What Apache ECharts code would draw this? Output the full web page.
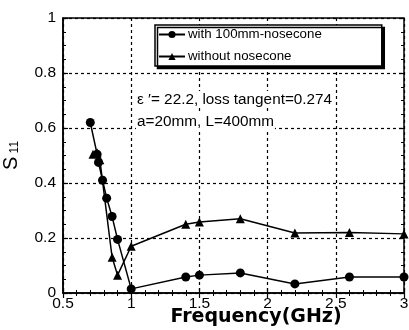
<!DOCTYPE html>
<html>
<head>
<meta charset="utf-8">
<script src="https://cdn.jsdelivr.net/npm/echarts@6/dist/echarts.min.js"></script>
<style>html,body{margin:0;padding:0;background:#fff}#c{width:409px;height:330px}</style>
</head>
<body>
<div id="c"></div>
<script>
var withNose = [[0.7,0.62],[0.75,0.505],[0.76,0.475],[0.79,0.41],[0.82,0.345],[0.86,0.278],[0.9,0.195],[1.0,0.015],[1.4,0.058],[1.5,0.065],[1.8,0.073],[2.2,0.033],[2.6,0.058],[3.0,0.058]];
var withoutNose = [[0.72,0.505],[0.75,0.51],[0.77,0.485],[0.86,0.13],[0.9,0.065],[1.0,0.17],[1.4,0.25],[1.5,0.258],[1.8,0.27],[2.2,0.218],[2.6,0.22],[3.0,0.215]];
var seriesNames = ['with 100mm-nosecone','without nosecone'];
var annot1 = 'ε ′= 22.2, loss tangent=0.274';
var annot2 = 'a=20mm, L=400mm';
var xName = 'Frequency(GHz)';

var chart = echarts.init(document.getElementById('c'));
var font = 'Liberation Sans, Arial, sans-serif';
var dash = {color:'#000', type:[3,3], width:1.2};
chart.setOption({
  animation:false,
  backgroundColor:'#fff',
  grid:{left:63, right:5, top:18, bottom:37, show:true, borderColor:'#000', borderWidth:1.5, backgroundColor:'transparent', outerBoundsMode:'none', containLabel:false},
  xAxis:[{
    type:'value', min:0.5, max:3, interval:0.5,
    axisLine:{show:true, lineStyle:{color:'#000', width:1.5}},
    axisTick:{show:true, inside:true, length:5, lineStyle:{color:'#000', width:1.2}},
    minorTick:{show:true, splitNumber:5, length:3, lineStyle:{color:'#000', width:1}},
    splitLine:{show:true, lineStyle:dash},
    axisLabel:{color:'#000', fontSize:15.5, fontFamily:font, margin:3},
    name:xName, nameLocation:'middle', nameGap:15, nameMoveOverlap:false,
    nameTextStyle:{color:'#000', fontSize:19, fontWeight:'bold', fontFamily:'DejaVu Sans, sans-serif', padding:[0,0,0,45]}
  },{
    type:'value', min:0.5, max:3, interval:0.5, position:'top',
    axisLine:{show:false},
    axisTick:{show:true, inside:true, length:5, lineStyle:{color:'#000', width:1.2}},
    minorTick:{show:true, splitNumber:5, length:3, lineStyle:{color:'#000', width:1}},
    splitLine:{show:false}, axisLabel:{show:false}
  }],
  yAxis:[{
    type:'value', min:0, max:1, interval:0.2,
    axisLine:{show:true, lineStyle:{color:'#000', width:1.5}},
    axisTick:{show:true, inside:true, length:5, lineStyle:{color:'#000', width:1.2}},
    minorTick:{show:true, splitNumber:4, length:3, lineStyle:{color:'#000', width:1}},
    splitLine:{show:true, lineStyle:dash},
    axisLabel:{color:'#000', fontSize:15.5, fontFamily:font, margin:7},
    name:'{s|S}{sub| 11}', nameLocation:'middle', nameGap:42, nameRotate:90,
    nameTextStyle:{color:'#000', rich:{s:{fontSize:20, fontFamily:font, color:'#000'}, sub:{fontSize:12, fontFamily:font, color:'#000', padding:[8,0,0,0]}}}
  },{
    type:'value', min:0, max:1, interval:0.2, position:'right',
    axisLine:{show:false},
    axisTick:{show:true, inside:true, length:5, lineStyle:{color:'#000', width:1.2}},
    minorTick:{show:true, splitNumber:4, length:3, lineStyle:{color:'#000', width:1}},
    splitLine:{show:false}, axisLabel:{show:false}
  }],
  legend:{
    left:155, top:25, orient:'vertical', itemWidth:26, itemHeight:9, itemGap:9,
    backgroundColor:'#fff', borderColor:'#000', borderWidth:1.5, borderRadius:0,
    shadowColor:'#000', shadowBlur:0, shadowOffsetX:2.5, shadowOffsetY:2.5,
    padding:[3,60,3,3],
    textStyle:{color:'#000', fontSize:13.3, fontFamily:font, padding:[0,0,0,-2]},
    data:seriesNames
  },
  series:[{
    name:seriesNames[0], type:'line', data:withNose, symbol:'circle', symbolSize:9,
    itemStyle:{color:'#000'}, lineStyle:{color:'#000', width:1.5}, z:3
  },{
    name:seriesNames[1], type:'line', data:withoutNose, symbol:'triangle', symbolSize:9,
    itemStyle:{color:'#000'}, lineStyle:{color:'#000', width:1.5}, z:3
  }],
  graphic:[
    {type:'text', left:136, top:91, z:10, style:{text:annot1, fill:'#000', font:'15.3px '+font, backgroundColor:'#fff', padding:[1,1,1,1]}},
    {type:'text', left:136, top:113, z:10, style:{text:annot2, fill:'#000', font:'15.3px '+font, backgroundColor:'#fff', padding:[1,1,1,1]}}
  ]
});
</script>
</body>
</html>
